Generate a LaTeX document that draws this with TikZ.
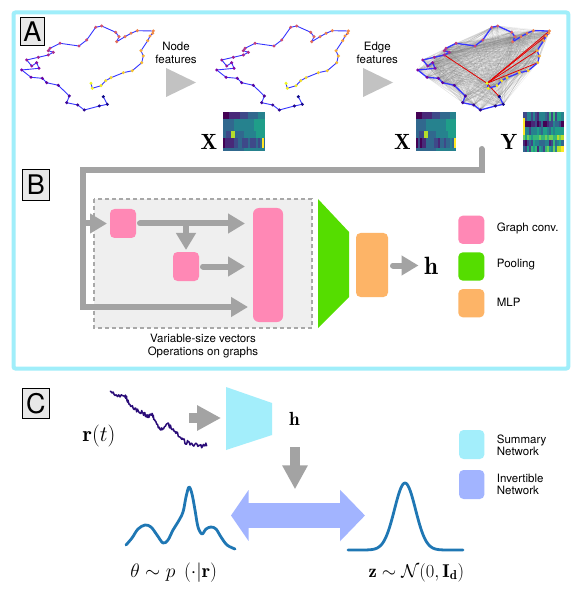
\RequirePackage{fix-cm}
\documentclass[tikz,border=0pt]{standalone}
\usepackage{fontspec}
\setsansfont{TeX Gyre Heros}
\usetikzlibrary{arrows.meta}
\definecolor{framecyan}{HTML}{A0EEFA}
\definecolor{gcpink}{HTML}{FF88B5}
\definecolor{poolgreen}{HTML}{55DD00}
\definecolor{mlporange}{HTML}{FDB467}
\definecolor{invblue}{HTML}{A2B4FF}
\definecolor{sumcyan}{HTML}{A3EEFB}
\definecolor{arrgray}{HTML}{A3A3A3}
\definecolor{trigray}{HTML}{C2C2C2}
\definecolor{regfill}{HTML}{EFEFEF}
\definecolor{regdash}{HTML}{A8A8A8}
\definecolor{curveblue}{HTML}{1F77B4}
\definecolor{walkcol}{HTML}{2A0C78}
\definecolor{edgeblue}{HTML}{3535FF}
\definecolor{pl0}{HTML}{0D0887}
\definecolor{pl1}{HTML}{7E03A8}
\definecolor{pl2}{HTML}{CC4778}
\definecolor{pl3}{HTML}{F89540}
\definecolor{pl4}{HTML}{F0F921}
\definecolor{vir0}{HTML}{440154}
\definecolor{vir1}{HTML}{482878}
\definecolor{vir2}{HTML}{3E4989}
\definecolor{vir3}{HTML}{31688E}
\definecolor{vir4}{HTML}{26828E}
\definecolor{vir5}{HTML}{1F9E89}
\definecolor{vir6}{HTML}{35B779}
\definecolor{vir7}{HTML}{6ECE58}
\definecolor{vir8}{HTML}{B5DE2B}
\definecolor{vir9}{HTML}{FDE725}
\newcommand\graphpts{91.0/83.3, 92.3/88.3, 101.0/85.7, 105.7/80.7, 111.0/77.7, 123.3/72.7, 132.3/70.7, 141.7/62.7, 143.3/56.0, 141.0/50.7, 147.7/40.7, 150.0/36.0, 152.7/33.3, 153.3/31.0, 137.3/30.7, 131.0/33.3, 125.0/36.7, 116.7/41.7, 119.0/36.7, 115.7/32.3, 101.7/26.0, 95.7/27.3, 86.7/40.0, 79.0/46.0, 60.0/43.3, 50.0/48.3, 48.3/50.7, 53.3/52.3, 48.3/55.0, 38.3/57.3, 26.7/60.0, 31.7/66.0, 36.7/62.7, 39.0/68.3, 21.7/70.0, 31.0/77.3, 42.3/78.3, 46.7/82.7, 58.3/85.3, 69.3/96.0, 66.7/102.7, 77.7/105.0, 84.3/110.0, 99.3/106.0, 107.3/104.3, 103.3/96.7}
\newcommand\myheatrow[7]{%
  \foreach \cc in {0,...,19}{%
    \pgfmathsetmacro\hbase{#5+(#6-#5)*\cc/19}%
    \pgfmathsetmacro\hrr{round(rand*#7)}%
    \pgfmathtruncatemacro\hci{max(0,min(9,round(\hbase)+\hrr))}%
    \fill[vir\hci] ({#1+\cc*#2/20},{#3}) rectangle ({#1+(\cc+1)*#2/20+0.3},{#4});
  }}
\begin{document}
\begin{tikzpicture}[x=1pt,y=-1pt,
  lbl/.style={draw=black, line width=0.7pt, fill=black!9, font=\sffamily\fontsize{27}{27}\selectfont, inner sep=0pt, outer sep=0pt},
  sans/.style={font=\sffamily\fontsize{11.5}{13}\selectfont, inner sep=0pt, align=center},
  legtxt/.style={font=\sffamily\fontsize{11.5}{12}\selectfont, inner sep=0pt, anchor=west, align=left},
  box/.style={rounded corners=4.5pt, inner sep=0pt, outer sep=0pt},
  garrow/.style={draw=arrgray, line width=6pt, line cap=round, -{Triangle[length=17pt,width=19pt]}},
  fatarrow/.style={draw=arrgray, line width=10pt, -{Triangle[length=24pt,width=24pt]}},
  pedge/.style={draw=edgeblue, line width=0.9pt},
  cedge/.style={draw=black!50, line width=0.3pt, opacity=0.17},
  redge/.style={draw=red!90!black, line width=0.8pt},
  density/.style={draw=curveblue, line width=2.8pt, line cap=round, line join=round},
  mathlbl/.style={inner sep=0pt, anchor=base}
]
\useasboundingbox (0,0) rectangle (582,609);
\fill[white] (0,0) rectangle (582,609);
\pgfmathsetseed{7}
% frame
\draw[framecyan, line width=4pt, rounded corners=2pt] (13.5,12.5) rectangle (568.3,368.5);
% labels
\node[lbl, minimum width=23.6pt, minimum height=27.7pt] (labA) at (32.5,31.2) {A};
\node[lbl, minimum width=26.3pt, minimum height=30.7pt] (labB) at (35.9,184.7) {B};
\node[lbl, minimum width=26.3pt, minimum height=30pt] (labC) at (35.9,403.3) {C};
% graph coordinates
\foreach \x/\y [count=\i] in \graphpts {
  \coordinate (pa\i) at (\x,\y);
  \coordinate (pb\i) at ({\x+195},\y);
  \coordinate (pc\i) at ({\x+396},\y);
}
% complete graph edges
\foreach \i in {1,...,45} {
  \pgfmathtruncatemacro\ip{\i+1}
  \foreach \j in {\ip,...,46} { \draw[cedge] (pc\i) -- (pc\j); }
}
\foreach \j in {29,14,12,10,8,46} { \draw[redge] (pc1) -- (pc\j); }
\foreach \i in {1,...,45} {
  \pgfmathtruncatemacro\ip{\i+1}
  \draw[pedge] (pa\i) -- (pa\ip);
  \draw[pedge] (pb\i) -- (pb\ip);
  \draw[pedge, line width=1.3pt] (pc\i) -- (pc\ip);
}
\foreach \i in {1,...,46} {
  \pgfmathsetmacro\t{4*(46-\i)/45}
  \pgfmathtruncatemacro\s{min(3,int(\t))}
  \pgfmathtruncatemacro\pct{round(100*(\t-\s))}
  \pgfmathtruncatemacro\sn{\s+1}
  \colorlet{dotcol}{pl\sn!\pct!pl\s}
  \fill[dotcol] (pa\i) circle (1.7pt);
  \fill[dotcol] (pb\i) circle (1.7pt);
  \fill[dotcol] (pc\i) circle (1.7pt);
}
% A arrows and texts
\fill[trigray] (166,68) -- (196,82.5) -- (166,97) -- cycle;
\fill[trigray] (363,68) -- (393,82.5) -- (363,97) -- cycle;
\node[sans] (nf) at (176,52.8) {Node\\features};
\node[sans] (ef) at (377.3,52.8) {Edge\\features};
% heatmaps
\foreach \ya/\yb/\a/\b/\n in {0/7/0/4/0, 7/12/3/5/0, 12/19/3/5/0, 19/26/2/5/0, 26/36/1/3/1, 36/39.3/3/4/0} {
  \myheatrow{223.3}{41}{112+\ya}{112+\yb}{\a}{\b}{\n}
  \myheatrow{416}{40}{112+\ya}{112+\yb}{\a}{\b}{\n}
}
\fill[vir3] (223.3,119) rectangle (226,138);
\fill[vir3] (416,119) rectangle (418.7,138);
\fill[vir8] (231,131) rectangle (235,138);
\fill[vir9] (262,138) rectangle (264.3,148);
\fill[vir8] (424,131) rectangle (428,138);
\fill[vir9] (454,138) rectangle (456,148);
\foreach \ya/\yb/\a/\b/\n in {0/9/3/4/2, 9/15/0/2/2, 15/23/3/5/1, 23/28/6/7/1, 28/34/2/4/2, 34/40/3/6/3} {
  \myheatrow{522.7}{40.6}{112+\ya}{112+\yb}{\a}{\b}{\n}
}
\fill[vir9] (522.7,118) rectangle (525,135);
\node[mathlbl] (Xa) at (209,150) {\fontsize{22}{22}\selectfont$\mathbf{X}$};
\node[mathlbl] (Xb) at (402.5,150) {\fontsize{22}{22}\selectfont$\mathbf{X}$};
\node[mathlbl] (Yb) at (509,150) {\fontsize{22}{22}\selectfont$\mathbf{Y}$};
% B panel
\fill[regfill] (94,199) rectangle (312,328);
\draw[regdash, line width=1.3pt, dash pattern=on 4pt off 3pt] (94,199) rectangle (312,328);
\node[box, fill=gcpink, minimum width=26pt, minimum height=29pt] (conv1) at (123,223.5) {};
\node[box, fill=gcpink, minimum width=26pt, minimum height=29pt] (conv2) at (186,266.5) {};
\node[box, fill=gcpink, rounded corners=6pt, minimum width=30pt, minimum height=114pt] (conv3) at (268,265) {};
\coordinate (gtop) at (481.5,149);
\coordinate (gcor1) at (481.5,170);
\coordinate (gcor2) at (83,170);
\coordinate (gcor3) at (83,307);
\coordinate (gbr) at (83,223.5);
\draw[garrow, line join=miter] (gtop) -- (gcor1) -- (gcor2) -- (gcor3) -- ([xshift=-5pt]conv3.west |- gcor3);
\draw[garrow, line cap=butt] (gbr) -- ([xshift=-3pt]conv1.west);
\draw[garrow, shorten <=4pt, shorten >=8pt] (conv1.east) -- (conv3.west |- conv1.east);
\coordinate (gdn) at (conv2.north |- conv1.east);
\draw[garrow, shorten >=2pt] (gdn) -- (conv2.north);
\draw[garrow, shorten <=4pt, shorten >=8pt] (conv2.east) -- (conv3.west |- conv2.east);
\fill[poolgreen] (318,199) -- (349,232) -- (349,297) -- (318,328) -- cycle;
\node[box, fill=mlporange, minimum width=32pt, minimum height=64pt] (mlp) at (372,265) {};
\node[mathlbl] (hB) at (431,274) {\fontsize{25}{25}\selectfont$\mathbf{h}$};
\coordinate (hBw) at (418.5,265.5);
\draw[garrow, shorten <=5pt] (mlp.east |- hBw) -- (hBw);
\node[sans] (capB) at (203,346) {Variable-size vectors\\Operations on graphs};
\node[box, fill=gcpink, minimum width=26pt, minimum height=28.3pt] (legA) at (471.3,229.8) {};
\node[box, fill=poolgreen, minimum width=26pt, minimum height=28.3pt] (legB) at (471.3,266.5) {};
\node[box, fill=mlporange, minimum width=26pt, minimum height=28.3pt] (legC) at (471.3,303.2) {};
\node[legtxt] (legAt) at (496.7,228.5) {Graph conv.};
\node[legtxt] (legBt) at (496.7,265) {Pooling};
\node[legtxt] (legCt) at (496.7,302.7) {MLP};
% C panel
\node[mathlbl] (rt) at (99,441) {\fontsize{22}{22}\selectfont$\mathbf{r}(t)$};
\coordinate (w0) at (110,391.7);
\draw[walkcol, line width=1.5pt, line join=round] (w0)
  \foreach \x/\y [remember=\x as \px (initially 110), remember=\y as \py (initially 391.7)] in {115/395,125/395,128/401.7,135/410,141.7/411.7,146.7/416.7,151.7/413.3,155/421.7,161.7/430,166.7/423.3,171.7/428.3,178.3/435,185/441.7,191.7/443.3,200/446.7,206.7/445}
  { \foreach \k in {1,...,8} { -- ({\px+(\x-\px)*\k/8}, {\py+(\y-\py)*\k/8+rand*2.3}) } };
\coordinate (ca1) at (189,418);
\coordinate (ca2) at (221,418);
\draw[fatarrow] (ca1) -- (ca2);
\fill[sumcyan] (226,387) -- (272,403) -- (272,435) -- (226,450) -- cycle;
\node[mathlbl] (hC) at (294.5,425) {\fontsize{19}{19}\selectfont$\mathbf{h}$};
\coordinate (cd1) at (295,447);
\coordinate (cd2) at (295,489.3);
\draw[fatarrow] (cd1) -- (cd2);
\coordinate (da1) at (231,515.5);
\coordinate (da2) at (365,515.5);
\draw[draw=invblue, line width=25.6pt, {Triangle[length=17.5pt,width=50pt]}-{Triangle[length=25pt,width=50pt]}] (da1) -- (da2);
\draw[density] plot[smooth, tension=0.55] coordinates {(126,545) (132,538) (138,529) (145,525) (151,527) (157,535) (163,543) (168,540) (173,530) (178,522) (183,512) (186,497) (189,487) (192,494) (195,510) (198,527) (202,534) (206,529) (211,527) (216,529) (221,537) (227,545) (235,549)};
\draw[density] plot[domain=348:463, samples=120] (\x, {550-67*exp(-((\x-405)/10.5)^2/2)});
\node[mathlbl] (thl) at (173.7,577) {\fontsize{19.5}{19.5}\selectfont$\theta\sim p\;\left(\cdot|\mathbf{r}\right)$};
\node[mathlbl] (zl) at (416.3,577) {\fontsize{18.5}{18.5}\selectfont$\mathbf{z}\sim\mathcal{N}(0,\mathbf{I}_{\mathbf{d}})$};
\node[box, fill=sumcyan, minimum width=25.3pt, minimum height=29pt] (legD) at (471.7,444.5) {};
\node[box, fill=invblue, minimum width=25.3pt, minimum height=29pt] (legE) at (471.7,484.5) {};
\node[legtxt] (legDt) at (496.7,445) {Summary\\Network};
\node[legtxt] (legEt) at (496.7,484.5) {Invertible\\Network};
\end{tikzpicture}
\end{document}
